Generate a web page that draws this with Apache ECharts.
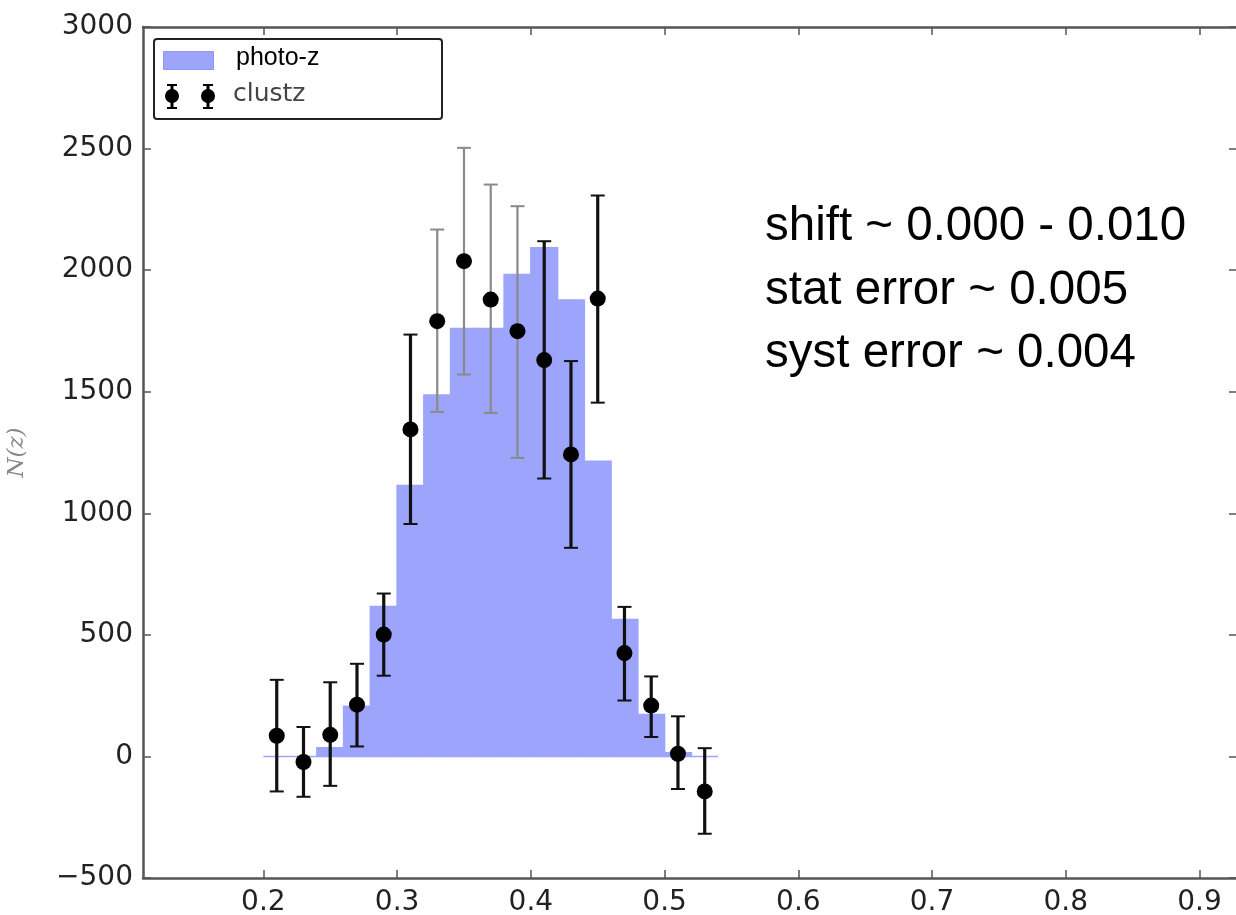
<!DOCTYPE html>
<html>
<head>
<meta charset="utf-8">
<title>N(z)</title>
<script src="https://cdn.jsdelivr.net/npm/echarts@6/dist/echarts.min.js"></script>
<style>
  html, body { margin: 0; padding: 0; background: #fff; }
  #chart { width: 1236px; height: 915px; }
</style>
</head>
<body>
<div id="chart"></div>
<script>
// bin centres shared by the histogram and the points
const zBins = [0.21, 0.23, 0.25, 0.27, 0.29, 0.31, 0.33, 0.35, 0.37, 0.39, 0.41, 0.43, 0.45, 0.47, 0.49, 0.51, 0.53];
const binWidth = 0.02;
// photo-z histogram heights
const photoZ = [0, 0, 36, 206, 617, 1114, 1486, 1760, 1760, 1982, 2092, 1877, 1214, 563, 172, 15, 0];
// clustz points and error bar ends
const clustz = [85, -23, 89, 213, 501, 1345, 1790, 2037, 1879, 1749, 1630, 1242, 1883, 425, 209, 11, -144];
const clustzHigh = [315, 121, 305, 381, 670, 1735, 2167, 2503, 2352, 2263, 2119, 1626, 2307, 615, 329, 165, 34];
const clustzLow = [-144, -166, -121, 41, 332, 956, 1417, 1571, 1413, 1228, 1143, 858, 1455, 230, 80, -134, -318];
// tick labels
const xTicks = [0.2, 0.3, 0.4, 0.5, 0.6, 0.7, 0.8, 0.9];
const notes = ["shift ~ 0.000 - 0.010", "stat error ~ 0.005", "syst error ~ 0.004"];

// bars drawn lighter in the source picture
const fadedBars = [6, 7, 8, 9];
const BLUE = "#9ca5fb";
const AXIS = "#555";

const chart = echarts.init(document.getElementById("chart"));

const histData = zBins.map((z, i) => [z, photoZ[i]]);
const errData = zBins.map((z, i) => [z, clustzLow[i], clustzHigh[i], i]);
const pointData = zBins.map((z, i) => [z, clustz[i]]);

const axisBase = {
  axisLine: { show: true, onZero: false, lineStyle: { color: AXIS, width: 2.5 } },
  axisTick: { show: true, inside: true, length: 8, lineStyle: { color: AXIS, width: 1.5 } },
  splitLine: { show: false },
};

// legend marker: small error bar with a dot
function legendMark(cx) {
  return [
    { type: "line", z: 12, shape: { x1: cx, y1: 85, x2: cx, y2: 108 }, style: { stroke: "#000", lineWidth: 3 } },
    { type: "line", z: 12, shape: { x1: cx - 5, y1: 85, x2: cx + 5, y2: 85 }, style: { stroke: "#000", lineWidth: 2 } },
    { type: "line", z: 12, shape: { x1: cx - 5, y1: 108, x2: cx + 5, y2: 108 }, style: { stroke: "#000", lineWidth: 2 } },
    { type: "circle", z: 12, shape: { cx: cx, cy: 96, r: 7 }, style: { fill: "#000" } },
  ];
}

const option = {
  animation: false,
  backgroundColor: "#fff",
  grid: {
    left: 143, right: -1, top: 27, bottom: 37,
    containLabel: false, outerBoundsMode: "none",
  },
  xAxis: [
    {
      type: "value", min: 0.11, max: 0.928, position: "bottom",
      ...axisBase,
      axisTick: { ...axisBase.axisTick, customValues: xTicks },
      axisLabel: {
        customValues: xTicks, margin: 11,
        formatter: (v) => v.toFixed(1),
        fontFamily: "DejaVu Sans", fontSize: 28, color: "#222",
      },
    },
    {
      type: "value", min: 0.11, max: 0.928, position: "top",
      ...axisBase,
      axisTick: { ...axisBase.axisTick, customValues: xTicks },
      axisLabel: { show: false },
    },
  ],
  yAxis: [
    {
      type: "value", min: -500, max: 3000, interval: 500, position: "left",
      ...axisBase,
      axisLabel: {
        margin: 10,
        formatter: (v) => String(v).replace("-", "\u2212"),
        fontFamily: "DejaVu Sans", fontSize: 28, color: "#222",
      },
      name: "N(z)", nameLocation: "middle", nameRotate: 90, nameGap: 114,
      nameTextStyle: { fontFamily: "DejaVu Serif", fontStyle: "italic", fontSize: 23, color: "#888" },
    },
    {
      type: "value", min: -500, max: 3000, interval: 500, position: "right",
      ...axisBase,
      axisLabel: { show: false },
    },
  ],
  series: [
    {
      name: "photo-z",
      type: "custom",
      z: 1,
      data: histData,
      renderItem(params, api) {
        const c = api.value(0);
        const v = api.value(1);
        const p0 = api.coord([c - binWidth / 2, v]);
        const p1 = api.coord([c + binWidth / 2, 0]);
        return {
          type: "rect",
          shape: { x: p0[0], y: p0[1], width: p1[0] - p0[0], height: Math.max(p1[1] - p0[1], 0) },
          style: { fill: BLUE, stroke: BLUE, lineWidth: 1.5 },
        };
      },
    },
    {
      name: "clustz errors",
      type: "custom",
      z: 3,
      data: errData,
      renderItem(params, api) {
        const x = api.value(0);
        const lo = api.coord([x, api.value(1)]);
        const hi = api.coord([x, api.value(2)]);
        const faded = fadedBars.includes(api.value(3));
        const color = faded ? "#8a8a8a" : "#111";
        const w = faded ? 2.2 : 3.2;
        const cap = 7;
        return {
          type: "group",
          children: [
            { type: "line", shape: { x1: hi[0], y1: hi[1], x2: lo[0], y2: lo[1] }, style: { stroke: color, lineWidth: w } },
            { type: "line", shape: { x1: hi[0] - cap, y1: hi[1], x2: hi[0] + cap, y2: hi[1] }, style: { stroke: color, lineWidth: 2 } },
            { type: "line", shape: { x1: lo[0] - cap, y1: lo[1], x2: lo[0] + cap, y2: lo[1] }, style: { stroke: color, lineWidth: 2 } },
          ],
        };
      },
    },
    {
      name: "clustz",
      type: "scatter",
      z: 4,
      data: pointData,
      symbol: "circle",
      symbolSize: 16,
      itemStyle: { color: "#000", opacity: 1 },
    },
  ],
  graphic: [
    // legend box
    {
      type: "rect", left: 153, top: 38, z: 10,
      shape: { width: 288, height: 80, r: 3 },
      style: { fill: "#fff", stroke: "#222", lineWidth: 2 },
    },
    {
      type: "rect", left: 163, top: 51, z: 11,
      shape: { width: 50, height: 18 },
      style: { fill: BLUE, stroke: "#8e97f2", lineWidth: 1 },
    },
    {
      type: "text", left: 236, top: 46, z: 11,
      style: { text: "photo-z", fontFamily: "Liberation Sans", fontSize: 25, fill: "#000" },
    },
    ...legendMark(172),
    ...legendMark(208),
    {
      type: "text", left: 233, top: 82, z: 11,
      style: { text: "clustz", fontFamily: "DejaVu Sans", fontSize: 25, fill: "#444" },
    },
    // annotation
    ...notes.map((t, i) => ({
      type: "text", left: 765, top: 203 + i * 63.5, z: 11,
      style: { text: t, fontFamily: "Liberation Sans", fontSize: 47.5, fill: "#000" },
    })),
  ],
};

chart.setOption(option);
</script>
</body>
</html>
